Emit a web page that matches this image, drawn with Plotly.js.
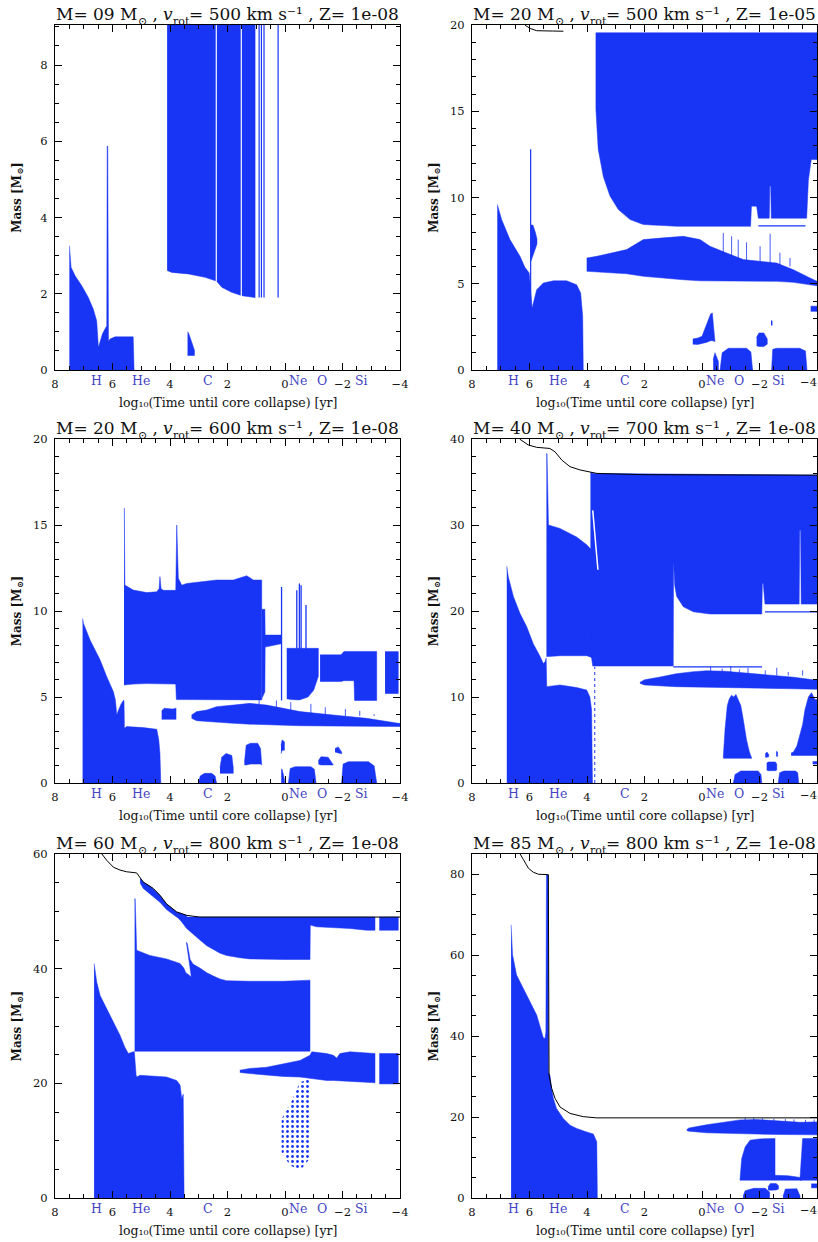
<!DOCTYPE html>
<html><head><meta charset="utf-8">
<script src="https://cdn.plot.ly/plotly-3.0.1.min.js"></script>
<style>html,body{margin:0;padding:0;background:#fff}#plot{width:818px;height:1242px}</style>
</head><body><div id="plot"></div>
<script>
// ================= DATA =================
const panelMass = ['09', '20', '20', '40', '60', '85'];
const panelVrot = ['500', '500', '600', '700', '800', '800'];
const panelZ = ['1e-08', '1e-05', '1e-08', '1e-08', '1e-08', '1e-08'];
const panelYMax = [9.05, 20, 20, 40, 60, 85];
const panelYTick = [2, 5, 5, 10, 20, 20];
const panelYMinor = [0.5, 1, 1, 2, 5, 5];
const xTickVals = [8, 6, 4, 2, 0, -2, -4];
const xTickText = ['8', '6', '4', '2', '0', '\u22122', '\u22124'];
const phaseLabels = ['H', 'He', 'C', 'Ne', 'O', 'Si'];
const phaseLabelT = [6.55, 5.0, 2.68, -0.45, -1.28, -2.66];

// ---- panel 1 : 9 Msun, 500 km/s, Z=1e-8
const p1_core_t = [7.50, 7.44, 7.30, 7.07, 6.84, 6.67, 6.55, 6.49, 6.35, 6.20, 6.185, 6.165, 6.14, 6.09, 5.91, 5.28, 5.25];
const p1_core_top = [3.26, 2.69, 2.47, 2.21, 1.90, 1.60, 1.29, 0.59, 0.95, 1.16, 5.87, 5.87, 0.75, 0.81, 0.87, 0.87, 0];
const p1_c_t = [3.39, 3.36, 3.30, 3.22, 3.15];
const p1_c_top = [1.0, 0.98, 0.85, 0.65, 0.52];
const p1_c_bot = [0.38, 0.38, 0.38, 0.38, 0.38];
const p1_env_top = 9.05;
const p1_env1_t = [4.10, 3.94, 3.36, 2.78, 2.42];
const p1_env1_bot = [2.61, 2.56, 2.52, 2.43, 2.34];
const p1_env2_t = [2.37, 2.20, 1.86, 1.55];
const p1_env2_bot = [2.32, 2.17, 2.04, 1.96];
const p1_env3_t = [1.50, 1.30, 1.04];
const p1_env3_bot = [1.95, 1.92, 1.90];
const p1_lines_t = [0.90, 0.82, 0.73, 0.24];

// ---- panel 2 : 20 Msun, 500 km/s, Z=1e-5
const p2_mass_t = [6.20, 6.16, 5.98, 5.75, 5.20, 4.82];
const p2_mass_m = [20.3, 20.0, 19.8, 19.67, 19.65, 19.64];
const p2_core_t = [7.12, 6.97, 6.68, 6.33, 6.16, 6.01, 5.91, 5.75, 5.52, 5.17, 4.71, 4.36, 4.22, 4.15, 4.13];
const p2_core_top = [9.59, 8.72, 7.56, 6.59, 5.95, 5.62, 3.59, 4.65, 5.04, 5.17, 5.17, 4.94, 4.46, 3.10, 0];
const p2_spike_t = [5.96];
const p2_spike_top = [12.79];
const p2_blob_t = [5.95, 5.88, 5.80, 5.74];
const p2_blob_top = [8.4, 8.4, 8.0, 7.6];
const p2_blob_bot = [6.3, 6.6, 7.0, 7.3];
const p2_shell_t = [4.01, 3.66, 2.62, 2.04, 1.34, 0.65, 0.07, -0.28, -0.86, -1.44, -2.60, -3.18, -3.76, -4.0];
const p2_shell_top = [6.49, 6.59, 6.98, 7.56, 7.66, 7.75, 7.56, 7.17, 6.78, 6.40, 6.20, 5.81, 5.33, 5.14];
const p2_shell_bot = [5.72, 5.68, 5.58, 5.43, 5.31, 5.23, 5.17, 5.17, 5.16, 5.15, 5.14, 5.08, 4.94, 4.88];
const p2_shspk_t = [-0.74, -1.03, -1.26, -1.55, -2.02, -2.37, -2.71, -3.06];
const p2_shspk_top = [7.95, 7.75, 7.56, 7.4, 7.17, 7.9, 6.8, 6.5];
const p2_env_top = 19.55;
const p2_env_t = [3.69, 3.69, 3.61, 3.43, 3.20, 2.91, 2.50, 2.04, 0.88, -1.69, -1.72, -1.90, -1.96, -2.34, -2.36, -2.39, -2.41, -3.64, -3.70, -3.80, -4.0];
const p2_env_bot = [19.55, 15.1, 12.8, 11.2, 10.08, 9.30, 8.72, 8.43, 8.33, 8.33, 9.5, 9.5, 8.8, 8.8, 10.66, 10.66, 8.8, 8.8, 11.0, 12.2, 12.2];
const p2_envline_t = [-1.96, -3.60];
const p2_envline_m = [8.35, 8.35];
const p2_ne_t = [0.32, 0.15, 0.0, -0.15, -0.30, -0.36, -0.45];
const p2_ne_top = [1.80, 1.85, 1.95, 2.6, 3.25, 3.3, 1.75];
const p2_ne_bot = [1.50, 1.48, 1.55, 1.60, 1.70, 1.70, 1.65];
const p2_ne2_t = [-0.39, -0.45, -0.57];
const p2_ne2_top = [0.6, 1.0, 0.5];
const p2_o_t = [-0.63, -0.70, -0.92, -1.55, -1.70, -1.76];
const p2_o_top = [0, 1.0, 1.26, 1.26, 1.05, 0];
const p2_b_t = [-1.90, -1.98, -2.15, -2.27];
const p2_b_top = [1.9, 2.15, 2.15, 1.8];
const p2_b_bot = [1.4, 1.36, 1.36, 1.5];
const p2_dot_t = [-2.40, -2.44];
const p2_dot_top = [2.85, 2.85];
const p2_dot_bot = [2.6, 2.6];
const p2_si_t = [-2.42, -2.46, -2.60, -3.40, -3.60, -3.65];
const p2_si_top = [0, 1.2, 1.26, 1.26, 1.1, 0];
const p2_edge_t = [-3.78, -4.0];
const p2_edge_top = [3.7, 3.7];
const p2_edge_bot = [3.4, 3.4];

// ---- panel 3 : 20 Msun, 600 km/s
const p3_core_t = [7.04, 7.01, 6.78, 6.43, 6.20, 5.97, 5.90, 5.85, 5.80, 5.70, 5.62, 5.60, 5.585, 5.51, 4.93, 4.46, 4.39, 4.35, 4.32];
const p3_core_top = [9.57, 9.28, 8.31, 7.15, 6.18, 5.31, 4.83, 3.95, 4.20, 4.60, 4.80, 4.80, 3.18, 3.28, 3.22, 3.12, 2.50, 1.72, 0];
const p3_mid_t = [5.60, 5.59, 5.57, 5.28, 4.81, 4.46, 4.38, 4.35, 4.31, 4.23, 3.80, 3.78, 3.765, 3.71, 3.59, 3.42, 2.96, 2.38, 1.80, 1.33, 1.10, 0.81];
const p3_mid_top = [15.97, 15.97, 11.51, 11.22, 11.07, 11.12, 11.30, 12.00, 11.30, 11.20, 11.20, 15.00, 15.00, 11.90, 11.50, 11.60, 11.70, 11.80, 11.80, 12.05, 11.80, 11.80];
const p3_mid_bot = [5.70, 5.70, 5.70, 5.75, 5.78, 5.78, 5.78, 5.78, 5.78, 5.78, 5.75, 4.85, 4.83, 4.83, 4.83, 4.83, 4.83, 4.83, 4.83, 4.83, 4.83, 4.83];
const p3_rag_t = [0.81, 0.70, 0.69, 0.13];
const p3_rag_top = [10.1, 10.1, 8.6, 8.6];
const p3_rag_bot = [4.9, 5.3, 7.9, 8.1];
const p3_neblk_t = [-0.06, -0.20, -0.50, -0.80, -1.00, -1.16];
const p3_neblk_bot = [4.90, 4.85, 4.83, 5.00, 5.40, 6.20];
const p3_oblk_t = [-1.22, -1.95, -2.05, -2.40, -2.42, -3.19];
const p3_oblk_top = [7.45, 7.45, 7.65, 7.65, 7.65, 7.65];
const p3_oblk_bot = [5.90, 5.90, 5.95, 5.95, 4.80, 4.80];
const p3_siblk_t = [-3.48, -3.94];
const p3_spk_t = [0.12, -0.41, -0.50, -0.56, -0.73];
const p3_spk_top = [11.4, 11.2, 11.6, 11.5, 10.35];
const p3_spk_bot = [4.8, 7.8, 7.8, 7.8, 7.8];
const p3_shell_t = [3.25, 3.07, 2.72, 2.38, 1.80, 1.22, 0.64, 0.06, -0.52, -1.68, -2.84, -3.94, -4.0];
const p3_shell_top = [3.95, 4.15, 4.24, 4.44, 4.53, 4.63, 4.53, 4.34, 4.15, 3.95, 3.76, 3.47, 3.47];
const p3_shell_bot = [3.76, 3.62, 3.57, 3.52, 3.47, 3.42, 3.37, 3.35, 3.33, 3.31, 3.30, 3.28, 3.28];
const p3_shspk_t = [0.9, 0.3, -0.2, -0.9, -1.4, -2.1, -2.6, -3.1];
const p3_shspk_top = [4.9, 4.8, 4.7, 4.6, 4.4, 4.3, 4.2, 4.0];
const p3_small_t = [4.29, 4.20, 3.90, 3.79];
const p3_small_top = [4.20, 4.34, 4.30, 4.35];
const p3_small_bot = [3.70, 3.66, 3.70, 3.70];
const p3_c1_t = [3.01, 2.95, 2.80, 2.55, 2.43, 2.38];
const p3_c1_top = [0, 0.40, 0.56, 0.56, 0.40, 0];
const p3_c2_t = [2.26, 2.20, 2.05, 1.85, 1.80];
const p3_c2_top = [0.9, 1.5, 1.72, 1.6, 0.9];
const p3_c3_t = [1.41, 1.35, 1.20, 0.95, 0.85, 0.81];
const p3_c3_top = [1.2, 2.2, 2.31, 2.31, 2.0, 1.1];
const p3_c3_bot = [1.05, 1.05, 1.10, 1.10, 1.10, 1.05];
const p3_ne1_t = [0.14, 0.10, 0.02];
const p3_ne1_top = [2.2, 2.5, 2.4];
const p3_ne1_bot = [1.7, 1.9, 1.9];
const p3_ne2_t = [0.13, 0.10, 0.02];
const p3_ne2_top = [0.8, 0.8, 0.2];
const p3_o_t = [-0.12, -0.18, -0.35, -0.90, -1.02, -1.08];
const p3_o_top = [0, 0.85, 0.95, 0.95, 0.80, 0];
const p3_o2_t = [-1.16, -1.25, -1.50, -1.68];
const p3_o2_top = [1.30, 1.53, 1.50, 1.10];
const p3_o2_bot = [1.10, 1.05, 1.05, 1.05];
const p3_o3_t = [-1.74, -1.85, -1.97];
const p3_o3_top = [2.0, 2.1, 1.8];
const p3_o3_bot = [1.8, 1.75, 1.7];
const p3_si_t = [-1.97, -2.02, -2.20, -2.90, -3.10, -3.19];
const p3_si_top = [0, 1.10, 1.24, 1.24, 1.00, 0];

// ---- panel 4 : 40 Msun, 700 km/s
const p4_mass_t = [6.40, 6.33, 6.04, 5.75, 5.29, 5.11, 4.88, 4.59, 4.24, 3.90, 3.66, 2.00, -4.00];
const p4_mass_m = [40.5, 39.96, 39.3, 39.03, 38.9, 38.5, 37.56, 36.78, 36.4, 36.2, 36.0, 35.85, 35.8];
const p4_core_t = [6.79, 6.74, 6.56, 6.33, 6.10, 5.87, 5.63, 5.52, 5.46, 5.42, 5.40, 4.94, 4.36, 4.01, 3.90, 3.84, 3.81];
const p4_core_top = [25.2, 24.0, 21.7, 19.7, 18.2, 16.2, 14.7, 13.9, 14.1, 14.5, 11.2, 11.4, 11.1, 10.8, 10.0, 8.5, 0];
const p4_mid_t = [5.41, 5.39, 5.34, 4.94, 4.36, 4.01, 3.84, 3.82];
const p4_mid_top = [38.3, 38.3, 30.0, 29.6, 28.6, 27.7, 27.1, 27.0];
const p4_mid_bot = [14.7, 14.7, 14.7, 14.8, 14.8, 14.8, 14.6, 14.6];
const p4_env_t = [3.88, 3.84, 3.80, 1.00, 0.99, 0.95, 0.88, 0.65, 0.30, -0.28, -2.08, -2.10, -2.13, -2.19, -3.38, -3.40, -3.43, -3.45, -4.00];
const p4_env_top = [36.1, 36.1, 36.0, 35.9, 35.9, 35.9, 35.9, 35.9, 35.85, 35.85, 35.8, 35.8, 35.8, 35.8, 35.8, 35.8, 35.8, 35.8, 35.8];
const p4_env_bot = [27.0, 14.5, 13.6, 13.6, 25.9, 23.0, 21.7, 20.5, 19.9, 19.65, 19.65, 23.2, 23.2, 20.8, 20.8, 29.4, 29.4, 20.8, 20.8];
const p4_gap_t = [3.80, 3.70, 3.62];
const p4_gap_m = [31.7, 28.0, 24.8];
const p4_line1_t = [1.00, -2.09];
const p4_line1_m = [13.5, 13.5];
const p4_line2_t = [-2.19, -4.00];
const p4_line2_m = [19.9, 19.9];
const p4_dot_t = [3.73, 3.73];
const p4_dot_m = [0, 13.5];
const p4_shell_t = [2.16, 2.00, 1.50, 0.90, 0.30, -0.16, -0.80, -1.50, -2.50, -3.20, -3.86, -4.00];
const p4_shell_top = [11.7, 12.0, 12.3, 12.7, 12.95, 13.05, 13.0, 12.8, 12.5, 12.3, 12.0, 12.0];
const p4_shell_bot = [11.6, 11.4, 11.3, 11.2, 11.15, 11.13, 11.1, 11.05, 11.0, 10.95, 10.9, 10.9];
const p4_shspk_t = [-0.30, -0.70, -1.00, -1.30, -1.60, -2.20, -2.60, -3.00, -3.50];
const p4_shspk_top = [13.5, 13.3, 13.6, 13.2, 13.4, 13.1, 13.4, 12.9, 13.1];
const p4_mtn_t = [-0.74, -0.80, -0.88, -0.95, -1.03, -1.10, -1.18, -1.26, -1.35, -1.44, -1.55, -1.65, -1.73];
const p4_mtn_top = [3.0, 6.2, 9.0, 9.8, 10.2, 10.0, 10.3, 9.6, 9.0, 7.3, 5.0, 3.6, 2.9];
const p4_o_t = [-1.09, -1.15, -1.35, -1.95, -2.05, -2.08];
const p4_o_top = [0, 1.0, 1.4, 1.4, 1.0, 0];
const p4_si_t = [-2.65, -2.70, -2.85, -3.25, -3.33, -3.36];
const p4_si_top = [0, 1.2, 1.4, 1.4, 1.2, 0];
const p4_b1_t = [-2.25, -2.30, -2.55, -2.60];
const p4_b1_top = [2.3, 2.45, 2.45, 2.2];
const p4_b1_bot = [1.5, 1.43, 1.43, 1.5];
const p4_b2_t = [-2.20, -2.26, -2.32];
const p4_b2_top = [3.4, 3.6, 3.3];
const p4_b2_bot = [3.0, 3.0, 3.05];
const p4_b3_t = [-2.58, -2.63];
const p4_b3_top = [3.7, 3.6];
const p4_b3_bot = [3.1, 3.1];
const p4_r_t = [-3.10, -3.18, -3.30, -3.41, -3.50, -3.58, -3.70, -3.81, -3.93, -4.00];
const p4_r_top = [3.5, 3.6, 4.3, 5.8, 6.8, 8.5, 10.0, 10.5, 9.7, 9.7];
const p4_r2_t = [-3.85, -4.00];

// ---- panel 5 : 60 Msun, 800 km/s
const p5_mass_t = [6.45, 6.38, 6.20, 5.97, 5.74, 5.51, 5.16, 5.10, 4.93, 4.58, 4.35, 4.12, 3.77, 3.42, 2.96, -0.87, -4.00];
const p5_mass_m = [61.0, 60.06, 58.9, 57.7, 57.2, 56.9, 56.7, 56.3, 55.1, 54.0, 52.8, 51.3, 49.9, 49.3, 49.0, 49.0, 49.0];
const p5_band_t = [5.04, 4.93, 4.70, 4.35, 4.12, 3.77, 3.42];
const p5_band_top = [55.8, 55.1, 54.4, 52.8, 51.3, 49.9, 49.3];
const p5_band_bot = [55.0, 54.0, 53.0, 51.6, 50.3, 49.0, 48.6];
const p5_env_t = [3.75, 3.60, 3.42, 3.19, 2.96, 2.72, 2.49, 2.26, 2.03, 1.57, 1.22, 0.64, 0.06, -0.87, -0.88, -1.10, -1.68, -2.26, -2.84, -3.13];
const p5_env_bot = [49.0, 48.2, 47.0, 46.0, 45.0, 44.0, 43.3, 42.7, 42.3, 41.9, 41.7, 41.6, 41.6, 41.6, 47.6, 47.3, 47.1, 47.0, 46.7, 46.7];
const p5_env2_t = [-3.28, -3.94];
const p5_mid_t = [5.23, 5.21, 5.16, 4.70, 4.12, 3.65, 3.52, 3.45, 3.26, 3.43, 3.40, 3.30, 3.20, 2.96, 2.72, 2.49, 2.26, 2.03, 1.22, 0.06, -0.87];
const p5_mid_top = [52.2, 52.2, 43.2, 42.3, 41.7, 40.9, 40.1, 39.3, 38.6, 44.6, 44.4, 41.6, 40.8, 40.1, 39.3, 38.7, 38.2, 37.9, 37.8, 37.8, 38.0];
const p5_core_t = [6.64, 6.55, 6.43, 6.20, 5.97, 5.74, 5.57, 5.45, 5.28, 5.24, 5.18, 5.16, 5.04, 4.70, 4.12, 3.77, 3.65, 3.59, 3.54, 3.51];
const p5_core_top = [40.9, 37.7, 35.3, 33.0, 30.7, 28.4, 26.3, 25.2, 25.5, 25.5, 21.5, 21.1, 21.4, 21.3, 21.1, 20.5, 19.7, 17.3, 18.1, 0];
const p5_shell_t = [1.57, 1.22, 0.64, 0.06, -0.52, -0.87, -0.93, -1.45, -1.68, -1.80, -1.91, -2.26, -2.84, -3.13];
const p5_shell_top = [22.3, 22.6, 22.8, 23.4, 24.0, 24.9, 25.5, 25.2, 24.9, 24.4, 25.2, 25.5, 25.3, 25.2];
const p5_shell_bot = [21.9, 21.7, 21.4, 21.2, 21.1, 20.8, 20.8, 20.5, 20.5, 20.5, 20.4, 20.3, 20.2, 20.1];
const p5_shell2_t = [-3.28, -3.94];
const p5_dots_t = [0.12, -0.17, -0.52, -0.87];
const p5_dots_top = [13.8, 16.2, 20.2, 20.8];
const p5_dots_bot = [8.0, 5.7, 4.8, 6.9];

// ---- panel 6 : 85 Msun, 800 km/s
const p6_mass_t = [6.45, 6.33, 6.21, 6.04, 5.87, 5.69, 5.345, 5.32, 5.23, 5.11, 4.94, 4.59, 4.13, 3.66, -4.00];
const p6_mass_m = [86.5, 85.2, 83.6, 81.5, 80.5, 80.0, 79.9, 30.4, 27.1, 24.6, 22.5, 20.9, 20.1, 19.8, 19.8];
const p6_core_t = [6.64, 6.59, 6.45, 6.21, 5.98, 5.75, 5.58, 5.52, 5.46, 5.43, 5.41, 5.35, 5.34, 5.29, 5.23, 5.17, 5.06, 4.82, 4.59, 4.36, 4.01, 3.78, 3.66, 3.64];
const p6_core_top = [67.5, 60.1, 55.1, 51.8, 48.5, 45.2, 41.1, 39.6, 39.4, 41.0, 79.8, 79.8, 31.0, 30.4, 27.1, 24.6, 22.1, 19.6, 18.0, 17.2, 16.3, 15.8, 13.9, 0];
const p6_shell_t = [0.53, 0.45, -0.16, -0.80, -1.32, -1.90, -2.71, -3.41, -3.87, -4.00];
const p6_shell_top = [16.9, 17.3, 18.1, 18.8, 19.3, 19.4, 19.0, 18.7, 18.8, 18.8];
const p6_shell_bot = [16.7, 16.5, 16.1, 16.0, 15.9, 15.8, 15.7, 15.6, 15.6, 15.6];
const p6_shspk_t = [-1.5, -1.8, -2.1, -2.5, -2.9, -3.2, -3.6, -3.9];
const p6_shspk_top = [19.8, 19.8, 19.7, 19.6, 19.5, 19.4, 19.3, 19.4];
const p6_o1_t = [-1.32, -1.38, -1.50, -1.67, -2.00, -2.50, -2.54];
const p6_o1_top = [4.4, 9.7, 12.6, 14.3, 14.6, 14.7, 14.7];
const p6_o2_t = [-2.54, -3.00, -3.30, -3.47];
const p6_o2_top = [5.6, 5.5, 5.2, 5.0];
const p6_o3_t = [-3.41, -3.47, -3.50, -3.93, -4.00];
const p6_o3_top = [5.0, 13.0, 14.7, 14.7, 14.7];
const p6_b1_t = [-1.43, -1.50, -1.80, -2.20, -2.35];
const p6_b1_top = [0.5, 1.8, 2.4, 2.4, 1.5];
const p6_b2_t = [-2.30, -2.38, -2.58, -2.66];
const p6_b2_top = [2.8, 3.6, 3.6, 3.0];
const p6_b2_bot = [2.0, 1.9, 2.0, 2.2];
const p6_b3_t = [-2.82, -2.90, -3.30, -3.41];
const p6_b3_top = [0.5, 2.2, 2.3, 0.5];
const p6_b4_t = [-3.80, -4.00];

// ================= DRAWING =================
const BLUE = '#1834f4';
const LABEL_BLUE = '#4444c4';
const SERIF = 'DejaVu Serif, Liberation Serif, serif';
const traces = [];
const ax = i => (i === 1 ? '' : String(i));

function poly(p, t, top, bot, extra) {
  const x = [], y = [];
  if (Array.isArray(top)) { x.push(...t); y.push(...top); }
  else { x.push(t[0], t[t.length - 1]); y.push(top, top); }
  if (Array.isArray(bot)) { x.push(...t.slice().reverse()); y.push(...bot.slice().reverse()); }
  else { x.push(t[t.length - 1], t[0]); y.push(bot, bot); }
  traces.push(Object.assign({
    type: 'scatter', mode: 'lines', xaxis: 'x' + ax(p), yaxis: 'y' + ax(p),
    x: x, y: y, fill: 'toself', fillcolor: BLUE,
    line: { color: BLUE, width: 0.5 }, hoverinfo: 'skip'
  }, extra || {}));
}
function vlines(p, t, bot, top, color, width) {
  const x = [], y = [];
  t.forEach((v, i) => {
    x.push(v, v, null);
    y.push(Array.isArray(bot) ? bot[i] : bot, Array.isArray(top) ? top[i] : top, null);
  });
  traces.push({ type: 'scatter', mode: 'lines', xaxis: 'x' + ax(p), yaxis: 'y' + ax(p),
    x: x, y: y, line: { color: color || BLUE, width: width || 1.2 }, hoverinfo: 'skip' });
}
function curve(p, t, m, color, width, dash) {
  traces.push({ type: 'scatter', mode: 'lines', xaxis: 'x' + ax(p), yaxis: 'y' + ax(p),
    x: t, y: m, line: { color: color, width: width, dash: dash || 'solid' }, hoverinfo: 'skip' });
}

// panel 1
poly(1, p1_core_t, p1_core_top, 0);
poly(1, p1_c_t, p1_c_top, p1_c_bot);
poly(1, p1_env1_t, p1_env_top, p1_env1_bot);
poly(1, p1_env2_t, p1_env_top, p1_env2_bot);
poly(1, p1_env3_t, p1_env_top, p1_env3_bot);
vlines(1, p1_lines_t, 1.9, p1_env_top, BLUE, 1.2);

// panel 2
poly(2, p2_core_t, p2_core_top, 0);
vlines(2, p2_spike_t, 3.8, p2_spike_top, BLUE, 1.2);
poly(2, p2_blob_t, p2_blob_top, p2_blob_bot);
poly(2, p2_shell_t, p2_shell_top, p2_shell_bot);
vlines(2, p2_shspk_t, 6.0, p2_shspk_top, BLUE, 0.8);
poly(2, p2_env_t, p2_env_top, p2_env_bot);
curve(2, p2_envline_t, p2_envline_m, BLUE, 1.2);
poly(2, p2_ne_t, p2_ne_top, p2_ne_bot);
poly(2, p2_ne2_t, p2_ne2_top, 0);
poly(2, p2_o_t, p2_o_top, 0);
poly(2, p2_b_t, p2_b_top, p2_b_bot);
poly(2, p2_dot_t, p2_dot_top, p2_dot_bot);
poly(2, p2_si_t, p2_si_top, 0);
poly(2, p2_edge_t, p2_edge_top, p2_edge_bot);
curve(2, p2_mass_t, p2_mass_m, '#000', 1);

// panel 3
poly(3, p3_core_t, p3_core_top, 0);
poly(3, p3_mid_t, p3_mid_top, p3_mid_bot);
poly(3, p3_rag_t, p3_rag_top, p3_rag_bot);
poly(3, p3_neblk_t, 7.83, p3_neblk_bot);
poly(3, p3_oblk_t, p3_oblk_top, p3_oblk_bot);
poly(3, p3_siblk_t, 7.64, 5.2);
vlines(3, p3_spk_t, p3_spk_bot, p3_spk_top, BLUE, 1.3);
poly(3, p3_shell_t, p3_shell_top, p3_shell_bot);
vlines(3, p3_shspk_t, 3.9, p3_shspk_top, BLUE, 0.8);
poly(3, p3_small_t, p3_small_top, p3_small_bot);
poly(3, p3_c1_t, p3_c1_top, 0);
poly(3, p3_c2_t, p3_c2_top, 0.56);
poly(3, p3_c3_t, p3_c3_top, p3_c3_bot);
poly(3, p3_ne1_t, p3_ne1_top, p3_ne1_bot);
poly(3, p3_ne2_t, p3_ne2_top, 0);
poly(3, p3_o_t, p3_o_top, 0);
poly(3, p3_o2_t, p3_o2_top, p3_o2_bot);
poly(3, p3_o3_t, p3_o3_top, p3_o3_bot);
poly(3, p3_si_t, p3_si_top, 0);

// panel 4
poly(4, p4_core_t, p4_core_top, 0);
poly(4, p4_mid_t, p4_mid_top, p4_mid_bot);
poly(4, p4_env_t, p4_env_top, p4_env_bot);
curve(4, p4_gap_t, p4_gap_m, '#fff', 1.5);
curve(4, p4_line1_t, p4_line1_m, BLUE, 1.2);
curve(4, p4_line2_t, p4_line2_m, BLUE, 1.2);
curve(4, p4_dot_t, p4_dot_m, BLUE, 1, 'dot');
poly(4, p4_shell_t, p4_shell_top, p4_shell_bot);
vlines(4, p4_shspk_t, 12.5, p4_shspk_top, BLUE, 0.8);
poly(4, p4_mtn_t, p4_mtn_top, 2.87);
poly(4, p4_o_t, p4_o_top, 0);
poly(4, p4_si_t, p4_si_top, 0);
poly(4, p4_b1_t, p4_b1_top, p4_b1_bot);
poly(4, p4_b2_t, p4_b2_top, p4_b2_bot);
poly(4, p4_b3_t, p4_b3_top, p4_b3_bot);
poly(4, p4_r_t, p4_r_top, 3.2);
poly(4, p4_r2_t, 2.5, 2.2);
curve(4, p4_mass_t, p4_mass_m, '#000', 1);

// panel 5
poly(5, p5_core_t, p5_core_top, 0);
poly(5, p5_mid_t, p5_mid_top, 25.6);
poly(5, p5_env_t, 49.0, p5_env_bot);
poly(5, p5_env2_t, 49.0, 46.7);
poly(5, p5_band_t, p5_band_top, p5_band_bot);
poly(5, p5_shell_t, p5_shell_top, p5_shell_bot);
poly(5, p5_shell2_t, 25.2, 19.9);
poly(5, p5_dots_t, p5_dots_top, p5_dots_bot, {
  fillcolor: 'rgba(0,0,0,0)', line: { width: 0 },
  fillpattern: { shape: '.', fgcolor: BLUE, bgcolor: 'rgba(255,255,255,0)', size: 5, solidity: 0.25 }
});
curve(5, p5_mass_t, p5_mass_m, '#000', 1);

// panel 6
poly(6, p6_core_t, p6_core_top, 0);
poly(6, p6_shell_t, p6_shell_top, p6_shell_bot);
vlines(6, p6_shspk_t, 18.5, p6_shspk_top, BLUE, 0.8);
poly(6, p6_o1_t, p6_o1_top, 4.4);
poly(6, p6_o2_t, p6_o2_top, 4.4);
poly(6, p6_o3_t, p6_o3_top, 4.4);
poly(6, p6_b1_t, p6_b1_top, 0);
poly(6, p6_b2_t, p6_b2_top, p6_b2_bot);
poly(6, p6_b3_t, p6_b3_top, 0);
poly(6, p6_b4_t, 3.5, 2.5);
curve(6, p6_mass_t, p6_mass_m, '#000', 1);

// ================= LAYOUT =================
const W = 818, H = 1242;
const colDom = [[55 / W, 400 / W], [472 / W, 817 / W]];
const rowDom = [[1 - 370 / H, 1 - 25 / H], [1 - 783 / H, 1 - 439 / H], [1 - 1198 / H, 1 - 854 / H]];
const layout = {
  width: W, height: H, margin: { l: 0, r: 0, t: 0, b: 0 },
  paper_bgcolor: '#fff', plot_bgcolor: '#fff', showlegend: false,
  font: { family: SERIF, color: '#111', size: 11 },
  annotations: []
};
const tickFont = { family: SERIF, size: 11.5, color: '#111' };

// text measuring for titles with real subscripts drawn as separate pieces
const measureCtx = document.createElement('canvas').getContext('2d');
function textWidth(txt, size, italic, bold) {
  measureCtx.font = (italic ? 'italic ' : '') + (bold ? 'bold ' : '') + size + 'px "DejaVu Serif"';
  return measureCtx.measureText(txt).width;
}
// segments: [text, size, baselineShift(px, +down), italic]
function richH(xd, yd, segs, yshiftBase) {
  const widths = segs.map(s => textWidth(s[0], s[1], s[3], false));
  const total = widths.reduce((a, b) => a + b, 0);
  let off = -total / 2;
  segs.forEach((s, k) => {
    layout.annotations.push({
      xref: xd, yref: yd, x: 0.5, y: 1, xanchor: 'left', yanchor: 'bottom',
      xshift: off, yshift: yshiftBase - s[2], showarrow: false, borderpad: 0, borderwidth: 0,
      text: s[3] ? '<i>' + s[0] + '</i>' : s[0],
      font: { family: SERIF, size: s[1], color: '#111' }
    });
    off += widths[k];
  });
}
function richV(xd, yd, segs, xshiftBase) {
  const widths = segs.map(s => textWidth(s[0], s[1], false, true));
  const total = widths.reduce((a, b) => a + b, 0);
  let off = -total / 2;
  segs.forEach((s, k) => {
    layout.annotations.push({
      xref: xd, yref: yd, x: 0, y: 0.5, xanchor: 'center', yanchor: 'bottom', textangle: -90,
      xshift: xshiftBase + s[2], yshift: off, showarrow: false, borderpad: 0, borderwidth: 0,
      text: s[0], font: { family: SERIF, size: s[1], color: '#111', weight: 'bold' }
    });
    off += widths[k];
  });
}

for (let i = 0; i < 6; i++) {
  const p = i + 1, col = i % 2, row = Math.floor(i / 2);
  const xd = 'x' + ax(p) + ' domain', yd = 'y' + ax(p) + ' domain';
  // right column: the last label sits at the page edge, so it is drawn right-aligned
  const labels = col === 1 ? xTickText.map((s, k) => (k === xTickText.length - 1 ? '' : s)) : xTickText;
  layout['xaxis' + ax(p)] = {
    domain: colDom[col], range: [8, -4], anchor: 'y' + ax(p),
    showline: true, linecolor: '#000', linewidth: 1, mirror: 'allticks',
    ticks: 'inside', ticklen: 7, tickcolor: '#000', tickwidth: 1,
    tickmode: 'array', tickvals: xTickVals, ticktext: labels, tickfont: tickFont, ticklabelstandoff: 3,
    minor: { ticks: 'inside', ticklen: 4, tickcolor: '#000', tickmode: 'linear', tick0: 0, dtick: 0.5, showgrid: false },
    showgrid: false, zeroline: false, fixedrange: true
  };
  if (col === 1) {
    layout.annotations.push({
      xref: 'paper', yref: yd, x: 1, y: 0, xanchor: 'right', yanchor: 'top', yshift: -4,
      showarrow: false, borderpad: 0, text: xTickText[xTickText.length - 1], font: tickFont
    });
  }
  layout['yaxis' + ax(p)] = {
    domain: rowDom[row], range: [0, panelYMax[i]], anchor: 'x' + ax(p),
    showline: true, linecolor: '#000', linewidth: 1, mirror: 'allticks',
    ticks: 'inside', ticklen: 7, tickcolor: '#000', tickwidth: 1,
    tickmode: 'linear', tick0: 0, dtick: panelYTick[i], tickfont: tickFont, ticklabelstandoff: 4,
    minor: { ticks: 'inside', ticklen: 4, tickcolor: '#000', tickmode: 'linear', tick0: 0, dtick: panelYMinor[i], showgrid: false },
    showgrid: false, zeroline: false, fixedrange: true
  };
  richH(xd, yd, [
    ['M= ' + panelMass[i] + ' M', 17, 0, false],
    ['\u2299', 11, 4, false],
    [' , ', 17, 0, false],
    ['v', 17, 0, true],
    ['rot', 11, 4, false],
    ['= ' + panelVrot[i] + ' km s\u207B\u00B9 , Z= ' + panelZ[i], 17, 0, false]
  ], 1);
  layout.annotations.push({
    xref: xd, yref: yd, x: 0.5, y: 0, xanchor: 'center', yanchor: 'top', yshift: -23, showarrow: false,
    text: 'log\u2081\u2080(Time until core collapse) [yr]',
    font: { family: SERIF, size: 12.5, color: '#111' }
  });
  richV(xd, yd, [
    ['Mass [M', 12, 0],
    ['\u2299', 8.5, 3],
    [']', 12, 0]
  ], -38);
  phaseLabels.forEach((lab, k) => {
    layout.annotations.push({
      xref: 'x' + ax(p), yref: yd, x: phaseLabelT[k], y: 0, xanchor: 'center', yanchor: 'middle',
      yshift: -10, showarrow: false, text: lab,
      font: { family: SERIF, size: 12.5, color: LABEL_BLUE }
    });
  });
}

Plotly.newPlot('plot', traces, layout, { staticPlot: true, displayModeBar: false });
</script>
</body></html>
